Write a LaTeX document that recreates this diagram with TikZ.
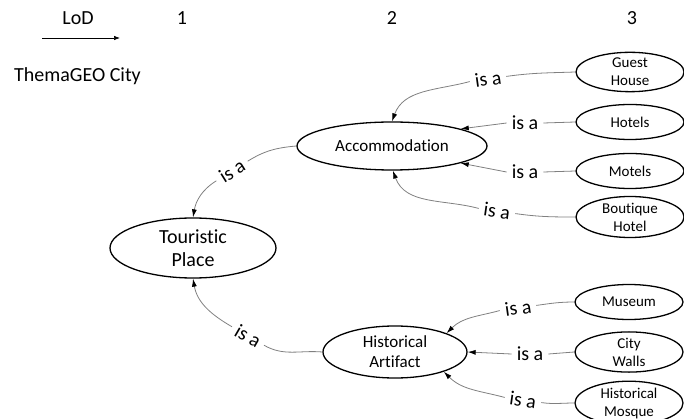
\documentclass[tikz,border=0pt]{standalone}
\usepackage{fontspec}
\setmainfont{Carlito}[Ligatures={NoCommon}]
\usetikzlibrary{shapes.geometric,arrows.meta}
\begin{document}
\begin{tikzpicture}[x=1pt,y=1pt,
  ell/.style={ellipse,draw=black,line width=1.3pt,inner sep=0pt,align=center},
  bignode/.style={ell,minimum width=166pt,minimum height=60pt,font=\fontsize{20}{23}\selectfont},
  midnode/.style={ell,font=\fontsize{17}{20}\selectfont},
  smallnode/.style={ell,minimum width=108pt,minimum height=35pt,font=\fontsize{15}{18}\selectfont},
  isa/.style={font=\fontsize{20}{24}\selectfont,inner xsep=5pt,inner ysep=1pt},
  hdr/.style={font=\fontsize{20}{24}\selectfont,inner sep=0pt},
  edge/.style={draw=black!50,line width=0.8pt},
  arr/.style={edge,-{Latex[color=black,length=8pt,width=5pt]}}
]
\useasboundingbox (0,0) rectangle (684,-419);

% header
\node[hdr,anchor=base] (lod) at (78,-25) {LoD};
\node[hdr,anchor=base] (h1) at (182,-25) {1};
\node[hdr,anchor=base] (h2) at (392,-25) {2};
\node[hdr,anchor=base] (h3) at (632,-25) {3};
\coordinate (ls) at (42,-38);
\coordinate (le) at (120,-38);
\draw[line width=0.7pt,-{Latex[length=6pt,width=4.5pt]}] (ls) -- (le);
\node[hdr,anchor=base west] (city) at (14,-82) {ThemaGEO City};

% nodes
\node[bignode] (tp) at (193,-248) {Touristic\\Place};
\node[midnode,minimum width=190pt,minimum height=48pt] (acc) at (392,-146) {Accommodation};
\node[midnode,minimum width=144pt,minimum height=52pt] (ha) at (395,-352) {Historical\\Artifact};
\node[smallnode,minimum height=37pt] (gh) at (630,-72) {Guest\\House};
\node[smallnode] (hot) at (630,-122) {Hotels};
\node[smallnode] (mot) at (630,-171) {Motels};
\node[smallnode,minimum height=41pt] (bh) at (630,-217) {Boutique\\Hotel};
\node[smallnode] (mus) at (629,-302) {Museum};
\node[smallnode] (cw) at (629,-352) {City\\Walls};
\node[smallnode,minimum height=40pt] (mos) at (629,-403) {Historical\\Mosque};

% labels
\node[isa,rotate=8] (l1) at (488,-79) {is a};
\node[isa] (l2) at (525,-123) {is a};
\node[isa] (l3) at (525,-172) {is a};
\node[isa,rotate=-8] (l4) at (497,-211) {is a};
\node[isa,rotate=32] (l5) at (232,-171) {is a};
\node[isa,rotate=-30] (l6) at (248,-336) {is a};
\node[isa,rotate=8] (l7) at (518,-308) {is a};
\node[isa] (l8) at (530,-354) {is a};
\node[isa,rotate=-8] (l9) at (523,-400) {is a};

% edges
\draw[edge] (gh.west) to[out=182,in=8] (l1.east);
\draw[arr] (l1.west) to[out=195,in=70] (acc.north);
\draw[edge] (hot.west) -- (l2.east);
\draw[arr] (l2.west) -- (acc.14);
\draw[edge] (mot.west) -- (l3.east);
\draw[arr] (l3.west) -- (acc.-14);
\draw[edge] (bh.west) to[out=180,in=-8] (l4.east);
\draw[arr] (l4.west) to[out=165,in=-70] (acc.-88);
\draw[edge] (acc.west) to[out=185,in=32] (l5.east);
\draw[arr] (l5.west) to[out=212,in=80] (tp.north);
\draw[edge] (ha.west) to[out=175,in=-30] (l6.east);
\draw[arr] (l6.west) to[out=150,in=-80] (tp.south);
\draw[edge] (mus.west) to[out=180,in=8] (l7.east);
\draw[arr] (l7.west) to[out=195,in=45] (ha.20);
\draw[edge] (cw.west) -- (l8.east);
\draw[arr] (l8.west) -- (ha.east);
\draw[edge] (mos.west) to[out=180,in=-8] (l9.east);
\draw[arr] (l9.west) to[out=165,in=-45] (ha.-22);
\end{tikzpicture}
\end{document}
